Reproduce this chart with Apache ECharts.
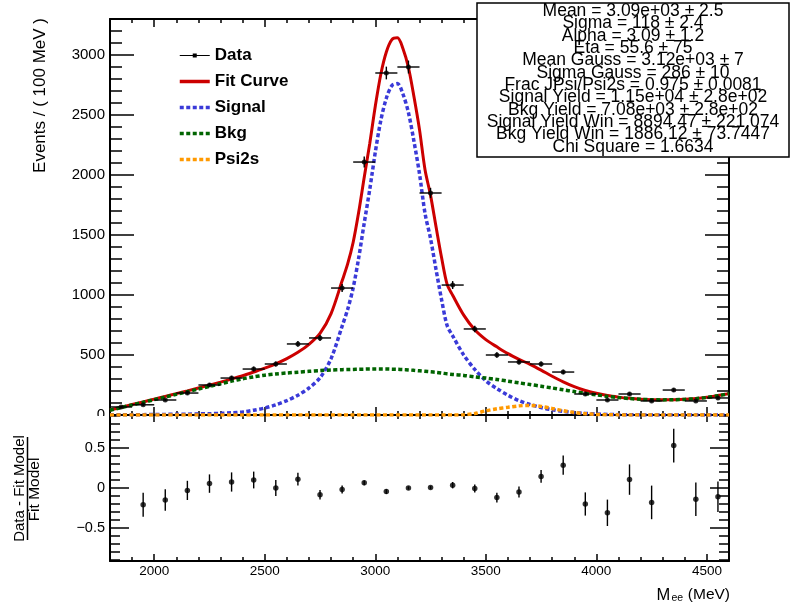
<!DOCTYPE html>
<html><head><meta charset="utf-8">
<script src="https://cdn.jsdelivr.net/npm/echarts@6/dist/echarts.min.js"></script>
<style>html,body{margin:0;padding:0;background:#fff}#c{width:791px;height:608px}</style>
</head><body><div id="c"></div>
<script>
// ---------- data ----------
const massRange = [1800, 4600];
const topRange = [0, 3300];
const botRange = [-0.9125, 0.9125];
const binHalfWidth = 50;

const xMajorTicks = [2000, 2500, 3000, 3500, 4000, 4500];
const xMinorTicks = [1800,1900,2000,2100,2200,2300,2400,2500,2600,2700,2800,2900,3000,3100,3200,3300,3400,3500,3600,3700,3800,3900,4000,4100,4200,4300,4400,4500,4600];
const yTopMajorTicks = [0, 500, 1000, 1500, 2000, 2500, 3000];
const yTopMinorTicks = [0,100,200,300,400,500,600,700,800,900,1000,1100,1200,1300,1400,1500,1600,1700,1800,1900,2000,2100,2200,2300,2400,2500,2600,2700,2800,2900,3000,3100,3200,3300];
const yBotMajorTicks = [-0.5, 0, 0.5];
const yBotMinorTicks = [-0.9,-0.8,-0.7,-0.6,-0.5,-0.4,-0.3,-0.2,-0.1,0,0.1,0.2,0.3,0.4,0.5,0.6,0.7,0.8,0.9];

const binCenters  = [1850,1950,2050,2150,2250,2350,2450,2550,2650,2750,2850,2950,3050,3150,3250,3350,3450,3550,3650,3750,3850,3950,4050,4150,4250,4350,4450,4550];
const eventCounts = [67,85,125,183,250,308,383,425,592,642,1058,2108,2850,2900,1850,1083,717,500,442,425,358,175,125,175,117,208,117,142];
const eventErrors = [8,9,11,14,16,18,20,21,24,25,33,46,53,54,43,33,27,22,21,21,19,13,11,13,11,14,11,12];

const residCenters = [1950,2050,2150,2250,2350,2450,2550,2650,2750,2850,2950,3050,3150,3250,3350,3450,3550,3650,3750,3850,3950,4050,4150,4250,4350,4450,4550];
const residValues  = [-0.21,-0.15,-0.03,0.055,0.075,0.10,0.0,0.11,-0.085,-0.02,0.065,-0.045,0.0,0.005,0.035,-0.005,-0.12,-0.05,0.145,0.285,-0.2,-0.31,0.105,-0.18,0.53,-0.14,-0.11];
const residErrors  = [0.15,0.135,0.12,0.115,0.12,0.105,0.10,0.08,0.06,0.05,0.03,0.03,0.02,0.02,0.04,0.05,0.06,0.07,0.08,0.12,0.145,0.165,0.19,0.21,0.21,0.21,0.19];

const curveMass   = [1800,1850,1900,1950,2000,2050,2100,2150,2200,2250,2300,2350,2400,2450,2500,2550,2600,2650,2700,2750,2800,2850,2875,2900,2925,2950,2975,3000,3025,3050,3075,3100,3125,3150,3175,3200,3225,3250,3275,3300,3325,3350,3400,3450,3500,3550,3600,3650,3700,3750,3800,3850,3900,3950,4000,4050,4100,4150,4200,4250,4300,4350,4400,4450,4500,4550,4600];
const fitCurve    = [42,64,87,109,132,155,178,201,225,249,274,300,327,358,390,427,470,522,589,680,845,1118,1259,1440,1691,1982,2263,2573,2840,3025,3128,3143,3055,2896,2652,2378,2044,1830,1566,1310,1088,998,832,710,628,568,511,464,422,374,323,276,236,204,181,162,149,139,132,128,127,128,131,137,147,162,178];
const signalCurve = [2,2,3,3,4,5,6,7,9,11,14,18,25,40,58,85,120,165,225,310,470,740,880,1060,1310,1600,1880,2190,2455,2640,2745,2762,2675,2520,2280,2010,1680,1470,1210,960,745,660,500,380,285,220,165,120,88,62,44,30,20,13,8,5,3,2,1,1,0,0,0,0,0,0,0];
const bkgCurve    = [40,62,84,106,128,150,172,194,216,238,260,282,302,318,332,342,350,357,364,370,375,378,379,380,381,382,383,383,383,383,382,381,379,376,372,368,364,360,356,350,343,338,330,318,308,296,282,268,254,240,225,210,195,180,168,155,145,137,131,127,126,127,130,136,146,161,177];
const psi2sCurve  = [0,0,0,0,0,0,0,0,0,0,0,0,0,0,0,0,0,0,0,0,0,0,0,0,0,0,0,0,0,0,0,0,0,0,0,0,0,0,0,0,0,0,2,12,35,52,64,76,80,72,54,36,21,11,5,2,1,0,0,0,0,0,0,0,0,0,0];

const statsLines = [
  'Mean = 3.09e+03 \u00b1 2.5',
  'Sigma = 118 \u00b1 2.4',
  'Alpha = 3.09 \u00b1 1.2',
  'Eta = 55.6 \u00b1 75',
  'Mean Gauss = 3.12e+03 \u00b1 7',
  'Sigma Gauss = 286 \u00b1 10',
  'Frac JPsi/Psi2s = 0.975 \u00b1 0.0081',
  'Signal Yield = 1.15e+04 \u00b1 2.8e+02',
  'Bkg Yield = 7.08e+03 \u00b1 2.8e+02',
  'Signal Yield Win = 8894.47 \u00b1 221.074',
  'Bkg Yield Win = 1886.12 \u00b1 73.7447',
  'Chi Square = 1.6634'
];

// ---------- helpers ----------
const FONT = '"Liberation Sans", Arial, Helvetica, sans-serif';
const plainFmt = v => String(v);
const minusFmt = v => (v < 0 ? '\u2212' + Math.abs(v) : String(v));

function xAx(grid, pos, ticks, len, showLine, labelVals) {
  return {
    type: 'value', gridIndex: grid, position: pos, min: massRange[0], max: massRange[1],
    axisLine: { show: showLine, onZero: false, lineStyle: { color: '#000', width: 2 } },
    axisTick: { show: true, inside: true, length: len, customValues: ticks, lineStyle: { color: '#000', width: 1.5 } },
    axisLabel: labelVals ? { show: true, customValues: labelVals, margin: 3, fontSize: 13.5, color: '#000', fontFamily: FONT, formatter: plainFmt } : { show: false },
    splitLine: { show: false }, minorTick: { show: false }
  };
}
function yAx(grid, pos, range, ticks, len, showLine, labelVals, fs, fmt) {
  return {
    type: 'value', gridIndex: grid, position: pos, min: range[0], max: range[1],
    axisLine: { show: showLine, onZero: false, lineStyle: { color: '#000', width: 2 } },
    axisTick: { show: true, inside: true, length: len, customValues: ticks, lineStyle: { color: '#000', width: 1.5 } },
    axisLabel: labelVals ? { show: true, customValues: labelVals, margin: 5, fontSize: fs, color: '#000', fontFamily: FONT, formatter: fmt } : { show: false },
    splitLine: { show: false }, minorTick: { show: false }
  };
}
function pairs(xs, ys) { return xs.map((x, i) => [x, ys[i]]); }
function triples(xs, ys, es) { return xs.map((x, i) => [x, ys[i], es[i]]); }

function curve(name, ys, color, width, dash) {
  return {
    name: name, type: 'line', xAxisIndex: 0, yAxisIndex: 0,
    data: pairs(curveMass, ys), smooth: 0.3, symbol: 'none', showSymbol: false,
    clip: true, silent: true,
    lineStyle: { color: color, width: width, type: dash || 'solid', cap: 'butt' },
    itemStyle: { color: color }, z: 3
  };
}

const errBarsTop = {
  type: 'custom', xAxisIndex: 0, yAxisIndex: 0, clip: true, z: 6,
  data: triples(binCenters, eventCounts, eventErrors),
  renderItem: function (params, api) {
    const x = api.value(0), y = api.value(1), e = api.value(2);
    const l = api.coord([x - binHalfWidth, y]), r = api.coord([x + binHalfWidth, y]);
    const t = api.coord([x, y + e]), b = api.coord([x, y - e]);
    const st = { stroke: '#000', lineWidth: 1.4 };
    return { type: 'group', children: [
      { type: 'line', shape: { x1: l[0], y1: l[1], x2: r[0], y2: r[1] }, style: st },
      { type: 'line', shape: { x1: t[0], y1: t[1], x2: b[0], y2: b[1] }, style: st }
    ] };
  }
};
const errBarsBot = {
  type: 'custom', xAxisIndex: 4, yAxisIndex: 4, clip: true, z: 6,
  data: triples(residCenters, residValues, residErrors),
  renderItem: function (params, api) {
    const x = api.value(0), y = api.value(1), e = api.value(2);
    const t = api.coord([x, y + e]), b = api.coord([x, y - e]);
    return { type: 'line', shape: { x1: t[0], y1: t[1], x2: b[0], y2: b[1] }, style: { stroke: '#000', lineWidth: 1.4 } };
  }
};

const graphics = [
  { type: 'rect', z: 100, shape: { x: 84, y: 416, width: 24, height: 12 }, style: { fill: '#fff' } },
  { type: 'text', z: 100, x: 40.5, y: 18, rotation: Math.PI / 2,
    style: { text: 'Events / ( 100 MeV )', align: 'right', verticalAlign: 'middle', fontSize: 17, fontFamily: FONT, fill: '#000' } },
  { type: 'text', z: 100, x: 19.5, y: 488.5, rotation: Math.PI / 2,
    style: { text: 'Data - Fit Model', align: 'center', verticalAlign: 'middle', fontSize: 15, fontFamily: FONT, fill: '#000' } },
  { type: 'line', z: 100, shape: { x1: 27.5, y1: 437, x2: 27.5, y2: 540 }, style: { stroke: '#000', lineWidth: 1.5 } },
  { type: 'text', z: 100, x: 35, y: 489.5, rotation: Math.PI / 2,
    style: { text: 'Fit Model', align: 'center', verticalAlign: 'middle', fontSize: 15.5, fontFamily: FONT, fill: '#000' } },
  { type: 'text', z: 100, x: 656.5, y: 595,
    style: { text: 'M', align: 'left', verticalAlign: 'middle', fontSize: 16.5, fontFamily: FONT, fill: '#000' } },
  { type: 'text', z: 100, x: 671.5, y: 598.5,
    style: { text: 'ee', align: 'left', verticalAlign: 'middle', fontSize: 10.5, fontFamily: FONT, fill: '#000' } },
  { type: 'text', z: 100, x: 730, y: 595,
    style: { text: '(MeV)', align: 'right', verticalAlign: 'middle', fontSize: 15.5, fontFamily: FONT, fill: '#000' } },
  { type: 'rect', z: 100, shape: { x: 477, y: 3, width: 312, height: 154 }, style: { fill: '#fff', stroke: '#000', lineWidth: 1.5 } }
].concat(statsLines.map((s, i) => ({
  type: 'text', z: 101, x: 633, y: 11 + 12.36 * i,
  style: { text: s, align: 'center', verticalAlign: 'middle', fontSize: 17.5, fontFamily: FONT, fill: '#000' }
})));

const hiddenSym = { opacity: 0 };

const option = {
  animation: false,
  backgroundColor: '#fff',
  grid: [
    { left: 110, top: 19, width: 619, height: 396, containLabel: false },
    { left: 110, top: 415, width: 619, height: 146, containLabel: false }
  ],
  xAxis: [
    xAx(0, 'bottom', xMajorTicks, 8, true, null),
    xAx(0, 'bottom', xMinorTicks, 4, false, null),
    xAx(0, 'top', xMajorTicks, 8, true, null),
    xAx(0, 'top', xMinorTicks, 4, false, null),
    xAx(1, 'bottom', xMajorTicks, 7, true, xMajorTicks),
    xAx(1, 'bottom', xMinorTicks, 4, false, null),
    xAx(1, 'top', xMajorTicks, 7, true, null),
    xAx(1, 'top', xMinorTicks, 4, false, null)
  ],
  yAxis: [
    yAx(0, 'left', topRange, yTopMajorTicks, 24, true, yTopMajorTicks, 15, plainFmt),
    yAx(0, 'left', topRange, yTopMinorTicks, 12, false, null),
    yAx(0, 'right', topRange, yTopMajorTicks, 24, true, null),
    yAx(0, 'right', topRange, yTopMinorTicks, 12, false, null),
    yAx(1, 'left', botRange, yBotMajorTicks, 19, true, yBotMajorTicks, 14.5, minusFmt),
    yAx(1, 'left', botRange, yBotMinorTicks, 10, false, null),
    yAx(1, 'right', botRange, yBotMajorTicks, 19, true, null),
    yAx(1, 'right', botRange, yBotMinorTicks, 10, false, null)
  ],
  legend: {
    show: true, left: 178, top: 47, orient: 'vertical', padding: 0,
    itemWidth: 30, itemHeight: 14, itemGap: 9, selectedMode: false,
    textStyle: { fontSize: 17, fontWeight: 'bold', color: '#000', fontFamily: FONT },
    lineStyle: { width: 3.5 },
    data: [
      { name: 'Data', icon: 'path://M0,0L0.01,0Z M0,14L0.01,14Z M0,6.4L30,6.4L30,7.6L0,7.6Z M13,5L17,5L17,9L13,9Z',
        itemStyle: { color: '#000', opacity: 1, borderWidth: 0 } },
      { name: 'Fit Curve', itemStyle: hiddenSym },
      { name: 'Signal', itemStyle: hiddenSym },
      { name: 'Bkg', itemStyle: hiddenSym },
      { name: 'Psi2s', itemStyle: hiddenSym }
    ]
  },
  series: [
    curve('Fit Curve', fitCurve, '#cc0000', 3),
    curve('Signal', signalCurve, '#3a3ad8', 3.5, [4, 2.5]),
    curve('Bkg', bkgCurve, '#006400', 3.5, [4, 2.5]),
    curve('Psi2s', psi2sCurve, '#ff9900', 3.5, [4, 2.5]),
    errBarsTop,
    { name: 'Data', type: 'scatter', xAxisIndex: 0, yAxisIndex: 0, symbol: 'circle', symbolSize: 5,
      itemStyle: { color: '#000' }, data: pairs(binCenters, eventCounts), z: 7, silent: true },
    errBarsBot,
    { type: 'scatter', xAxisIndex: 4, yAxisIndex: 4, symbol: 'circle', symbolSize: 5.5,
      itemStyle: { color: '#000' }, data: pairs(residCenters, residValues), z: 7, silent: true }
  ],
  graphic: graphics
};

const chart = echarts.init(document.getElementById('c'), null, { renderer: 'canvas' });
chart.setOption(option);
</script>
</body></html>
